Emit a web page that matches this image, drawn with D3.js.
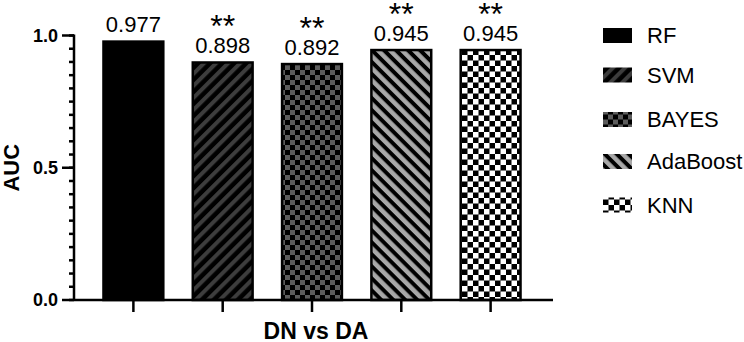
<!DOCTYPE html>
<html>
<head>
<meta charset="utf-8">
<script src="https://cdn.jsdelivr.net/npm/d3@7"></script>
<style>
html,body{margin:0;padding:0;background:#fff;}
svg{display:block;font-family:Arial,"Liberation Sans",Helvetica,sans-serif;}
</style>
</head>
<body>
<svg id="chart" width="744" height="342"></svg>
<script>
const categories = ["RF", "SVM", "BAYES", "AdaBoost", "KNN"];
const aucValues = [0.977, 0.898, 0.892, 0.945, 0.945];
const valueLabels = ["0.977", "0.898", "0.892", "0.945", "0.945"];
const significance = ["", "**", "**", "**", "**"];
const yMajorTicks = [0, 0.5, 1.0];
const yMinorTicks = d3.range(0, 21).map(i => i / 20);
const xGroupLabel = "DN vs DA";
const yAxisLabel = "AUC";

const svg = d3.select("#chart");
const defs = svg.append("defs");

// patterns
function stripes(id, color, angle, period, w) {
  const p = defs.append("pattern").attr("id", id)
    .attr("patternUnits", "userSpaceOnUse")
    .attr("width", period).attr("height", period)
    .attr("patternTransform", `rotate(${angle})`);
  p.append("rect").attr("width", period).attr("height", period).attr("fill", "#000");
  p.append("rect").attr("x", 0).attr("width", w).attr("height", period).attr("fill", color);
}
function checker(id, c1, c2, cell) {
  const p = defs.append("pattern").attr("id", id)
    .attr("patternUnits", "userSpaceOnUse")
    .attr("width", cell * 2).attr("height", cell * 2);
  p.append("rect").attr("width", cell * 2).attr("height", cell * 2).attr("fill", c1);
  p.append("rect").attr("width", cell).attr("height", cell).attr("fill", c2);
  p.append("rect").attr("x", cell).attr("y", cell).attr("width", cell).attr("height", cell).attr("fill", c2);
}
stripes("pSVM", "#3d3d3d", 45, 8.5, 4);
checker("pBAYES", "#000", "#5c5c5c", 5);
stripes("pADA", "#a8a8a8", -45, 8.5, 4.5);
checker("pKNN", "#000", "#fff", 5.5);
const fills = ["#000", "url(#pSVM)", "url(#pBAYES)", "url(#pADA)", "url(#pKNN)"];

const y = d3.scaleLinear().domain([0, 1]).range([300, 35.5]);
const x = d3.scaleBand().domain(categories).range([74, 550]).paddingInner(0.33).paddingOuter(0.33);

// bars
svg.append("g").selectAll("rect").data(categories).join("rect")
  .attr("x", d => x(d))
  .attr("y", (d, i) => y(aucValues[i]))
  .attr("width", x.bandwidth())
  .attr("height", (d, i) => y(0) - y(aucValues[i]))
  .attr("fill", (d, i) => fills[i])
  .attr("stroke", "#000").attr("stroke-width", 2.5);

// value labels
svg.append("g").selectAll("text").data(categories).join("text")
  .attr("x", d => x(d) + x.bandwidth() / 2)
  .attr("y", (d, i) => y(aucValues[i]) - 9.5)
  .attr("text-anchor", "middle").attr("font-size", 22).attr("fill", "#000")
  .text((d, i) => valueLabels[i]);

// significance stars
svg.append("g").selectAll("text").data(categories).join("text")
  .attr("x", d => x(d) + x.bandwidth() / 2)
  .attr("y", (d, i) => y(aucValues[i]) - 25)
  .attr("text-anchor", "middle").attr("font-size", 32).attr("fill", "#000")
  .text((d, i) => significance[i]);

// y axis
const yAxis = svg.append("g").attr("transform", "translate(74,0)");
yAxis.append("line").attr("x1", 0).attr("x2", 0).attr("y1", y(1) - 1).attr("y2", y(0))
  .attr("stroke", "#000").attr("stroke-width", 2.5);
yAxis.selectAll(".minor").data(yMinorTicks).join("line").attr("class", "minor")
  .attr("x1", -5).attr("x2", 0).attr("y1", d => y(d)).attr("y2", d => y(d))
  .attr("stroke", "#000").attr("stroke-width", 2.5);
yAxis.selectAll(".major").data(yMajorTicks).join("line").attr("class", "major")
  .attr("x1", -12).attr("x2", 0).attr("y1", d => y(d)).attr("y2", d => y(d))
  .attr("stroke", "#000").attr("stroke-width", 2.5);
yAxis.selectAll(".lab").data(yMajorTicks).join("text").attr("class", "lab")
  .attr("x", -16).attr("y", d => y(d)).attr("dy", "0.36em")
  .attr("text-anchor", "end").attr("font-size", 18).attr("font-weight", "bold")
  .text(d => d3.format(".1f")(d));

// x axis
svg.append("line").attr("x1", 74).attr("x2", 553).attr("y1", y(0)).attr("y2", y(0))
  .attr("stroke", "#000").attr("stroke-width", 2.5);
svg.append("g").selectAll("line").data(categories).join("line")
  .attr("x1", d => x(d) + x.bandwidth() / 2).attr("x2", d => x(d) + x.bandwidth() / 2)
  .attr("y1", y(0)).attr("y2", y(0) + 12)
  .attr("stroke", "#000").attr("stroke-width", 2.5);

// axis titles
svg.append("text").attr("x", 316).attr("y", 339).attr("text-anchor", "middle")
  .attr("font-size", 23).attr("font-weight", "bold").text(xGroupLabel);
svg.append("text").attr("transform", `translate(19,${(y(0) + y(1)) / 2}) rotate(-90)`)
  .attr("text-anchor", "middle").attr("font-size", 22).attr("font-weight", "bold").text(yAxisLabel);

// legend
const legendY = [35.5, 75, 119.5, 161.5, 205];
const lg = svg.append("g").selectAll("g").data(categories).join("g")
  .attr("transform", (d, i) => `translate(603,${legendY[i]})`);
lg.append("rect").attr("x", 0).attr("y", -7.5).attr("width", 29).attr("height", 15)
  .attr("fill", (d, i) => fills[i]);
lg.append("text").attr("x", 44).attr("y", 0).attr("dy", "0.36em")
  .attr("font-size", 22).text(d => d);
</script>
</body>
</html>
